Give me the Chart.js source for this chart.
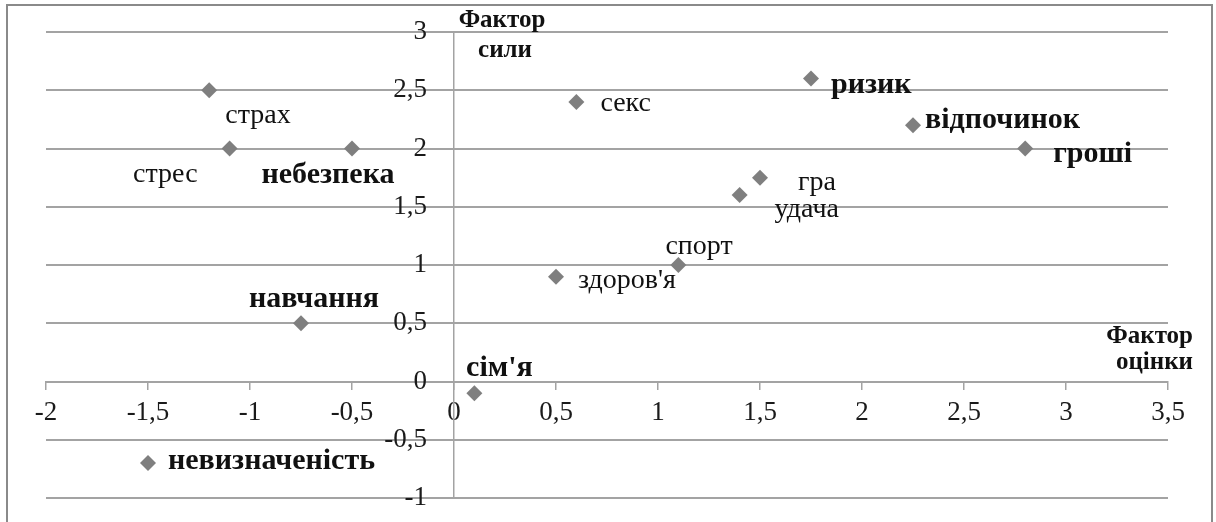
<!DOCTYPE html>
<html>
<head>
<meta charset="utf-8">
<script src="https://cdn.jsdelivr.net/npm/chart.js@4/dist/chart.umd.min.js"></script>
<style>
  html, body { margin: 0; padding: 0; background: #fff; }
  #wrap { width: 1216px; height: 522px; }
</style>
</head>
<body>
<div id="wrap"><canvas id="semChart" width="1216" height="522"></canvas></div>
<script>
'use strict';

// ---- data ----
const words      = ['страх', 'стрес', 'небезпека', 'навчання', 'невизначеність', "сім'я", "здоров'я",
                    'спорт', 'удача', 'гра', 'секс', 'ризик', 'відпочинок', 'гроші'];
const evaluation = [-1.2, -1.1, -0.5, -0.75, -1.5, 0.1, 0.5, 1.1, 1.4, 1.5, 0.6, 1.75, 2.25, 2.8];
const strength   = [2.5, 2.0, 2.0, 0.5, -0.7, -0.1, 0.9, 1.0, 1.6, 1.75, 2.4, 2.6, 2.2, 2.0];
const xTicks     = [-2, -1.5, -1, -0.5, 0, 0.5, 1, 1.5, 2, 2.5, 3, 3.5];
const yTicks     = [-1, -0.5, 0, 0.5, 1, 1.5, 2, 2.5, 3];
const yTitle     = ['Фактор', 'сили'];
const xTitle     = ['Фактор', 'оцінки'];

// label placement next to each marker (px offsets, baseline = alphabetic)
const labelStyle = {
    'страх':          { bold: false, align: 'left',   dx:  16, dy:  33 },
    'стрес':          { bold: false, align: 'right',  dx: -32, dy:  33 },
    'небезпека':      { bold: true,  align: 'center', dx: -24, dy:  34 },
    'навчання':       { bold: true,  align: 'center', dx:  13, dy: -16 },
    'невизначеність': { bold: true,  align: 'left',   dx:  20, dy:   6 },
    "сім'я":          { bold: true,  align: 'center', dx:  25, dy: -17 },
    "здоров'я":       { bold: false, align: 'left',   dx:  22, dy:  11 },
    'спорт':          { bold: false, align: 'left',   dx: -13, dy: -11 },
    'удача':          { bold: false, align: 'left',   dx:  35, dy:  22 },
    'гра':            { bold: false, align: 'left',   dx:  38, dy:  12 },
    'секс':           { bold: false, align: 'left',   dx:  24, dy:   9 },
    'ризик':          { bold: true,  align: 'left',   dx:  20, dy:  14 },
    'відпочинок':     { bold: true,  align: 'left',   dx:  12, dy:   3 },
    'гроші':          { bold: true,  align: 'left',   dx:  28, dy:  13 },
};

const FONT   = "'Liberation Serif', 'Times New Roman', serif";
const GRID   = '#a3a3a3';
const MARKER = '#7f7f7f';

const fmt = v => String(v).replace('.', ',');

// ---- plugins ----
const frame = {
    id: 'frame',
    beforeDraw(chart) {
        const ctx = chart.ctx;
        ctx.save();
        ctx.fillStyle = '#fff';
        ctx.fillRect(0, 0, chart.width, chart.height);
        ctx.strokeStyle = '#8a8a8a';
        ctx.lineWidth = 2;
        ctx.strokeRect(7, 5, 1205, 540);
        ctx.restore();
    }
};

const pointLabels = {
    id: 'pointLabels',
    afterDatasetsDraw(chart) {
        const ctx  = chart.ctx;
        const meta = chart.getDatasetMeta(0);
        ctx.save();
        ctx.fillStyle = '#111';
        ctx.textBaseline = 'alphabetic';
        meta.data.forEach((pt, i) => {
            const word = words[i];
            const s = labelStyle[word];
            ctx.font = s.bold ? 'bold 30px ' + FONT : '28px ' + FONT;
            ctx.textAlign = s.align;
            ctx.fillText(word, pt.x + s.dx, pt.y + s.dy);
        });
        ctx.restore();
    }
};

const axisTitles = {
    id: 'axisTitles',
    afterDraw(chart) {
        const ctx = chart.ctx;
        const {x, y} = chart.scales;
        const x0 = x.getPixelForValue(0);
        const y0 = y.getPixelForValue(0);
        const top = chart.chartArea.top;
        ctx.save();
        ctx.fillStyle = '#111';
        ctx.font = 'bold 25px ' + FONT;
        ctx.textBaseline = 'alphabetic';
        ctx.textAlign = 'center';
        ctx.fillText(yTitle[0], x0 + 48, top - 5);
        ctx.fillText(yTitle[1], x0 + 51, top + 25);
        ctx.textAlign = 'right';
        ctx.fillText(xTitle[0], chart.chartArea.right + 25, y0 - 39);
        ctx.fillText(xTitle[1], chart.chartArea.right + 25, y0 - 13);
        ctx.restore();
    }
};

// ---- chart ----
new Chart(document.getElementById('semChart'), {
    type: 'scatter',
    data: {
        datasets: [{
            data: evaluation.map((v, i) => ({ x: v, y: strength[i] })),
            pointStyle: 'rectRot',
            pointRadius: 8,
            pointHoverRadius: 8,
            backgroundColor: MARKER,
            borderColor: MARKER,
            borderWidth: 0,
        }]
    },
    options: {
        responsive: false,
        animation: false,
        events: [],
        layout: { padding: { left: 46, right: 48, top: 32, bottom: 24 } },
        plugins: { legend: { display: false }, tooltip: { enabled: false } },
        scales: {
            x: {
                type: 'linear',
                position: { y: 0 },
                min: xTicks[0],
                max: xTicks[xTicks.length - 1],
                afterBuildTicks: s => { s.ticks = xTicks.map(v => ({ value: v })); },
                grid: { drawOnChartArea: false, drawTicks: true, tickLength: 7, color: GRID, lineWidth: 1.5 },
                border: { display: true, color: GRID, width: 2 },
                ticks: {
                    autoSkip: false, maxRotation: 0, padding: 8, color: '#1a1a1a',
                    font: { family: FONT, size: 27 },
                    callback: v => fmt(v)
                }
            },
            y: {
                type: 'linear',
                position: { x: 0 },
                min: yTicks[0],
                max: yTicks[yTicks.length - 1],
                afterBuildTicks: s => { s.ticks = yTicks.map(v => ({ value: v })); },
                grid: { drawOnChartArea: true, drawTicks: false, color: GRID, lineWidth: 2 },
                border: { display: true, color: GRID, width: 1.5 },
                ticks: {
                    autoSkip: false, padding: 0, color: '#1a1a1a',
                    font: { family: FONT, size: 27 },
                    callback: v => fmt(v) + '\u2002\u2002'
                }
            }
        }
    },
    plugins: [frame, pointLabels, axisTitles]
});
</script>
</body>
</html>
